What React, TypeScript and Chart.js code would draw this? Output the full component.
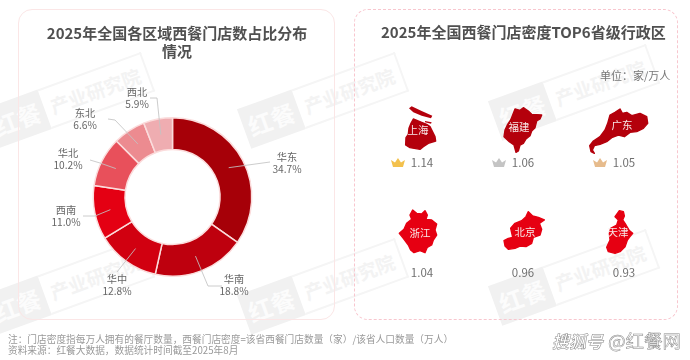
import React, { useEffect, useRef } from "react";
import { Chart, registerables } from "chart.js";

Chart.register(...registerables);

const FONT = '"Noto Sans CJK SC", "Noto Sans", sans-serif';

const regions = ["华东", "华南", "华中", "西南", "华北", "东北", "西北"];
const shares = [34.7, 18.8, 12.8, 11.0, 10.2, 6.6, 5.9];
const regionColors = ["#a60008", "#be000e", "#d10010", "#e40013", "#e8505b", "#ec8b90", "#efadb1"];
// leader line bends and label centres, canvas pixels (by region)
const leaderBends = [
  [[270, 162]],
  [[208, 286], [222, 286]],
  [[117, 272]],
  [[95, 216], [83, 216]],
  [[100, 163], [90, 160]],
  [[115, 120], [108, 119]],
  [[157, 98], [150, 98]],
];
const labelCentres = [[287, 157], [234, 279], [117, 279], [66, 210], [68, 153], [85, 113], [137, 92]];

const provinces = ["上海", "福建", "广东", "浙江", "北京", "天津"];
const density = [1.14, 1.06, 1.05, 1.04, 0.96, 0.93];
const provinceCols = [0, 1, 2, 0, 1, 2];
const provinceRows = [1, 1, 1, 0, 0, 0];
const crownColors = ["#f3c14d", "#c4c4c4", "#e6bb8c", null, null, null];
const mapColors = ["#b4000c", "#b4000c", "#b4000c", "#e60012", "#e60012", "#e60012"];

type Shape = { ox: number; oy: number; lx: number; ly: number; vy: number; polys: number[][] };
const shapes: Shape[] = [
  { ox: -27, oy: -33, lx: -4, ly: 2, vy: 35, polys: [
    [55,72,80,82,95,88,105,95,120,125,122,138,100,145,85,155,75,163,45,158,32,150,33,128,40,118,42,100,48,85],
    [42,40,50,34,80,48,112,62,108,70,80,62,55,52],
    [90,78,110,82,108,86,90,82],
  ] },
  { ox: -33, oy: -33, lx: -4, ly: -1, vy: 35, polys: [
    [75,42,90,46,100,38,115,48,125,58,155,60,150,72,140,78,135,98,125,108,120,122,108,132,100,145,90,150,85,168,78,172,72,150,58,140,42,125,45,105,52,90,62,75,68,60],
  ] },
  { ox: -39, oy: -33, lx: -2, ly: -3, vy: 35, polys: [
    [75,60,90,52,105,42,112,55,125,52,140,62,165,55,185,65,188,85,175,100,155,110,135,112,118,125,100,120,80,128,65,140,45,148,28,152,22,165,28,175,18,170,14,152,25,138,45,125,60,105,68,85],
  ] },
  { ox: -32, oy: -32, lx: -2, ly: 1, vy: 41, polys: [
    [68,30,80,40,95,42,105,32,112,45,108,58,125,60,140,72,135,90,140,105,130,120,125,135,112,142,105,158,90,152,72,158,62,150,55,135,40,115,28,100,42,88,50,70,65,58,60,45],
  ] },
  { ox: -33, oy: -32, lx: 2, ly: 0, vy: 41, polys: [
    [115,35,128,48,145,52,163,60,148,70,155,88,150,105,130,112,125,130,108,140,90,138,75,145,55,148,45,138,42,122,55,115,68,112,62,85,75,70,95,62,108,50],
  ] },
  { ox: -34, oy: -32, lx: -6, ly: 0, vy: 41, polys: [
    [88,32,100,35,103,48,98,60,108,75,118,92,128,100,118,112,112,120,105,140,90,155,75,160,55,155,50,142,60,120,58,100,62,85,80,75,85,60,75,50],
  ] },
];

const donutLabels = {
  id: "donutLabels",
  afterDatasetsDraw(chart: any) {
    const ctx = chart.ctx;
    const arcs = chart.getDatasetMeta(0).data;
    ctx.save();
    arcs.forEach((arc: any, i: number) => {
      const p = arc.tooltipPosition();
      ctx.beginPath();
      ctx.moveTo(p.x, p.y);
      leaderBends[i].forEach(([x, y]) => ctx.lineTo(x, y));
      ctx.strokeStyle = "rgba(195,195,195,0.85)";
      ctx.lineWidth = 1;
      ctx.stroke();
      const [lx, ly] = labelCentres[i];
      ctx.fillStyle = "#666";
      ctx.font = `10.2px ${FONT}`;
      ctx.textAlign = "center";
      ctx.textBaseline = "middle";
      ctx.fillText(regions[i], lx, ly);
      ctx.fillText(`${shares[i].toFixed(1)}%`, lx, ly + 12);
    });
    ctx.restore();
  },
};

const provinceMarks = {
  id: "provinceMarks",
  afterDatasetsDraw(chart: any) {
    const ctx = chart.ctx;
    const pts = chart.getDatasetMeta(0).data;
    ctx.save();
    pts.forEach((pt: any, i: number) => {
      const s = shapes[i];
      ctx.save();
      ctx.translate(pt.x, pt.y);
      ctx.fillStyle = mapColors[i];
      ctx.strokeStyle = mapColors[i];
      ctx.lineWidth = 1.4;
      ctx.lineJoin = "round";
      s.polys.forEach((poly, n) => {
        ctx.beginPath();
        for (let k = 0; k < poly.length; k += 2) {
          const x = s.ox + poly[k] / 3;
          const y = s.oy + poly[k + 1] / 3;
          if (k === 0) ctx.moveTo(x, y);
          else ctx.lineTo(x, y);
        }
        ctx.closePath();
        ctx.fill();
        if (n === 0) ctx.stroke();
      });
      ctx.textAlign = "center";
      ctx.textBaseline = "middle";
      ctx.font = `10.5px ${FONT}`;
      ctx.fillStyle = "#f8e8e8";
      ctx.fillText(provinces[i], s.lx, s.ly);
      ctx.font = `11.5px ${FONT}`;
      ctx.fillStyle = "#707070";
      ctx.fillText(density[i].toFixed(2), 0, s.vy);
      const crown = crownColors[i];
      if (crown) {
        const cx = -24;
        const cy = s.vy;
        ctx.fillStyle = crown;
        ctx.beginPath();
        ctx.moveTo(cx - 5, cy + 4);
        ctx.lineTo(cx - 7, cy - 3);
        ctx.lineTo(cx - 3, cy - 0.5);
        ctx.lineTo(cx, cy - 5);
        ctx.lineTo(cx + 3, cy - 0.5);
        ctx.lineTo(cx + 7, cy - 3);
        ctx.lineTo(cx + 5, cy + 4);
        ctx.closePath();
        ctx.fill();
      }
      ctx.restore();
    });
    ctx.restore();
  },
};

const marks = [
  { x: 70, y: 100 }, { x: 324, y: 100 }, { x: 575, y: 92 },
  { x: 70, y: 286 }, { x: 324, y: 286 }, { x: 575, y: 277 },
];

function Watermark({ x, y }: { x: number; y: number }) {
  return (
    <div style={{ position: "absolute", left: x - 85, top: y - 21, width: 170, height: 42, transform: "rotate(-20deg)", display: "flex", fontFamily: FONT }}>
      <div style={{ width: 58, height: 42, background: "#f1f1f1", color: "#fcfcfc", fontSize: 24, fontWeight: 700, lineHeight: "42px", textAlign: "center" }}>红餐</div>
      <div style={{ width: 108, height: 38, border: "2px solid #f5f5f5", borderLeft: "none", color: "#f3f3f3", fontSize: 19, fontWeight: 700, lineHeight: "38px", textAlign: "center", whiteSpace: "nowrap" }}>产业研究院</div>
    </div>
  );
}

const abs = (left: number, top: number, extra: React.CSSProperties = {}): React.CSSProperties => ({
  position: "absolute", left, top, fontFamily: FONT, whiteSpace: "nowrap", ...extra,
});

export default function App() {
  const donutRef = useRef<HTMLCanvasElement>(null);
  const mapRef = useRef<HTMLCanvasElement>(null);

  useEffect(() => {
    const donut = new Chart(donutRef.current!, {
      type: "doughnut",
      data: {
        labels: regions,
        datasets: [{ data: shares, backgroundColor: regionColors, borderColor: "#fbdcdc", borderWidth: 1.5, borderAlign: "center" }],
      },
      options: {
        responsive: false,
        animation: false,
        cutout: "60%",
        layout: { padding: { top: 117, bottom: 83, left: 0, right: 0 } },
        plugins: { legend: { display: false }, tooltip: { enabled: false } },
      },
      plugins: [donutLabels],
    } as any);
    const map = new Chart(mapRef.current!, {
      type: "scatter",
      data: {
        labels: provinces,
        datasets: [{ data: provinceCols.map((c, i) => ({ x: c, y: provinceRows[i] })), pointRadius: 0 }],
      },
      options: {
        responsive: false,
        animation: false,
        layout: { padding: 0 },
        scales: {
          x: { display: false, min: -0.762, max: 2.653 },
          y: { display: false, min: -1.231, max: 2.231 },
        },
        plugins: { legend: { display: false }, tooltip: { enabled: false } },
      },
      plugins: [provinceMarks],
    } as any);
    return () => {
      donut.destroy();
      map.destroy();
    };
  }, []);

  return (
    <div style={{ position: "fixed", left: 0, top: 0, width: 690, height: 360, overflow: "hidden", background: "#fff", filter: "blur(0.35px)" }}>
      {marks.map((m, i) => <Watermark key={i} x={m.x} y={m.y} />)}
      <div style={{ position: "absolute", left: 18, top: 9, width: 317, height: 311, boxSizing: "border-box", border: "1.5px solid #fbe6e6", borderRadius: 14 }} />
      <div style={{ position: "absolute", left: 354, top: 9, width: 324, height: 311, boxSizing: "border-box", border: "1.5px dashed #f8c6ce", borderRadius: 14 }} />
      <canvas ref={donutRef} width={345} height={360} style={{ position: "absolute", left: 0, top: 0 }} />
      <canvas ref={mapRef} width={345} height={360} style={{ position: "absolute", left: 345, top: 0 }} />
      <div style={abs(18, 24, { width: 318, textAlign: "center", color: "#505050", fontSize: 15, fontWeight: 700, lineHeight: "18px", whiteSpace: "normal" })}>
        2025年全国各区域西餐门店数占比分布<br />情况
      </div>
      <div style={abs(381, 22, { color: "#505050", fontSize: 15, fontWeight: 700, lineHeight: "20px" })}>2025年全国西餐门店密度TOP6省级行政区</div>
      <div style={abs(600, 67, { color: "#777", fontSize: 11, lineHeight: "16px" })}>单位：家/万人</div>
      <div style={abs(8, 333, { color: "#999", fontSize: 9.7, lineHeight: "12px" })}>注：门店密度指每万人拥有的餐厅数量，西餐门店密度=该省西餐门店数量（家）/该省人口数量（万人）</div>
      <div style={abs(8, 344, { color: "#999", fontSize: 9.7, lineHeight: "12px" })}>资料来源：红餐大数据，数据统计时间截至2025年8月</div>
      <div style={abs(552, 329, { lineHeight: "22px", color: "#fff", WebkitTextStroke: "0.5px #888" } as any)}>
        <span style={{ fontSize: 17, fontStyle: "italic", fontWeight: 700 }}>搜狐号</span>
        <span style={{ fontSize: 18.5, marginLeft: 5 }}>@红餐网</span>
      </div>
    </div>
  );
}
